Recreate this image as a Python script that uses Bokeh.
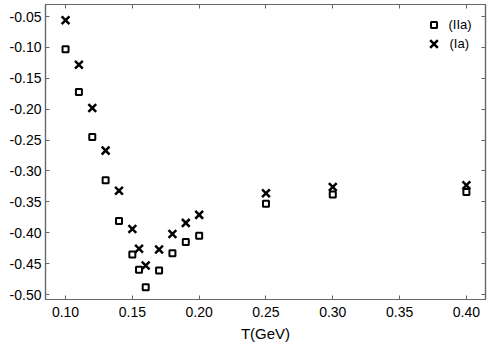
from bokeh.plotting import figure
from bokeh.models import LinearAxis, FixedTicker, Range1d, Legend, LegendItem, PrintfTickFormatter
from bokeh.embed import file_html
from bokeh.resources import INLINE

T = [0.10, 0.11, 0.12, 0.13, 0.14, 0.15, 0.155, 0.16, 0.17, 0.18, 0.19, 0.20, 0.25, 0.30, 0.40]
IIa = [-0.103, -0.172, -0.245, -0.315, -0.381, -0.435, -0.460, -0.488, -0.461, -0.433, -0.415, -0.405, -0.353, -0.338, -0.334]
Ia = [-0.056, -0.128, -0.198, -0.267, -0.332, -0.394, -0.426, -0.453, -0.427, -0.402, -0.384, -0.371, -0.336, -0.326, -0.323]
xticks = [0.10, 0.15, 0.20, 0.25, 0.30, 0.35, 0.40]
yticks = [-0.50, -0.45, -0.40, -0.35, -0.30, -0.25, -0.20, -0.15, -0.10, -0.05]

FONT = "Liberation Sans"
AX = "#666666"

p = figure(width=491, height=347, output_backend="svg", toolbar_location=None,
           x_range=Range1d(0.085, 0.4143), y_range=Range1d(-0.508, -0.0305),
           min_border_left=45, min_border_right=6, min_border_top=4, min_border_bottom=48)
p.xgrid.visible = False
p.ygrid.visible = False
p.outline_line_color = AX
p.outline_line_width = 1.2

def style(ax, ticks, labels=True):
    ax.ticker = FixedTicker(ticks=ticks)
    ax.axis_line_color = AX
    ax.axis_line_width = 1.2
    ax.major_tick_line_color = AX
    ax.major_tick_line_width = 1
    ax.major_tick_in = 4
    ax.major_tick_out = 0
    ax.minor_tick_line_color = None
    ax.major_label_text_font = FONT
    ax.major_label_text_font_size = "14px"
    ax.major_label_text_color = "black"
    if not labels:
        ax.major_label_text_font_size = "0px"
        ax.major_label_standoff = 0
        ax.major_label_text_alpha = 0

style(p.xaxis[0], xticks)
style(p.yaxis[0], yticks)
p.xaxis[0].major_label_standoff = 7
p.yaxis[0].major_label_standoff = 4
p.xaxis[0].formatter = PrintfTickFormatter(format="%.2f")
p.yaxis[0].formatter = PrintfTickFormatter(format="%.2f")
p.xaxis[0].axis_label = "T(GeV)"
p.xaxis[0].axis_label_text_font = FONT
p.xaxis[0].axis_label_text_font_size = "15px"
p.xaxis[0].axis_label_text_font_style = "normal"
p.xaxis[0].axis_label_text_color = "black"
p.xaxis[0].axis_label_standoff = 5

top = LinearAxis()
style(top, xticks, labels=False)
right = LinearAxis()
style(right, yticks, labels=False)
p.add_layout(top, "above")
p.add_layout(right, "right")

r1 = p.scatter(T, IIa, marker="square", size=6, fill_color=None, line_color="black", line_width=2)
r2 = p.scatter(T, Ia, marker="x", size=11, line_color="black", line_width=2.5)

common = dict(border_line_color=None, background_fill_alpha=0, margin=0, padding=0,
              label_text_font=FONT, label_text_font_size="13px", label_text_color="black")
leg1 = Legend(items=[LegendItem(label="(IIa)", renderers=[r1])], location=(380.5, 267.5),
              glyph_width=15, glyph_height=15, label_height=15, label_standoff=8, **common)
leg2 = Legend(items=[LegendItem(label="(Ia)", renderers=[r2])], location=(374.5, 242.5),
              glyph_width=27, glyph_height=27, label_height=27, label_standoff=3, **common)
p.add_layout(leg1)
p.add_layout(leg2)

open("out.html", "w").write(file_html(p, INLINE))
